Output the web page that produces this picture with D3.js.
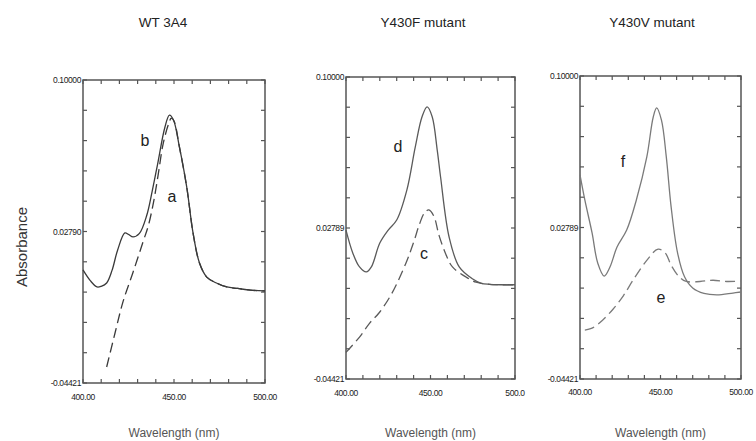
<!DOCTYPE html>
<html><head><meta charset="utf-8">
<script src="https://cdn.jsdelivr.net/npm/d3@7"></script>
<style>body{margin:0;background:#fff}svg{display:block}text{font-family:"Liberation Sans",Arial,sans-serif}</style>
</head><body><div id="chart"></div>
<script>
// ---------- data ----------
const panelTitles = ["WT 3A4", "Y430F mutant", "Y430V mutant"];
const yTickLabels = [["0.10000","0.02790","-0.04421"],["0.10000","0.02789","-0.04421"],["0.10000","0.02789","-0.04421"]];
const yTickValues = [0.1, 0.027895, -0.04421];
const xTickValues = [400, 450, 500];
const xTickLabels = [["400.00","450.00","500.00"],["400.00","450.00","500.0"],["400.00","450.00","500.00"]];
const curveLetters = [["b","a"],["d","c"],["f","e"]];
// [wavelength nm, absorbance]
const wtB = [[400,0.0096],[404,0.0045],[407.7,0.0015],[410,0.0018],[413,0.0034],[416,0.0095],[419,0.019],[423,0.0272],[425,0.0265],[427.5,0.0253],[431,0.027],[435,0.0355],[438,0.047],[441,0.06],[445,0.0775],[447.5,0.0833],[449.7,0.081],[453,0.068],[457,0.049],[460.5,0.027],[464,0.0129],[468,0.0062],[473,0.0035],[479,0.0015],[485,0.0008],[492,0.0],[500,-0.0004]];
const wtA = [[413,-0.0366],[417.6,-0.0204],[422,-0.0055],[427.5,0.0085],[433,0.023],[436,0.031],[439,0.043],[441.5,0.056],[444,0.0695],[447,0.079],[448.5,0.0818],[450,0.0805],[453,0.068],[457,0.049],[460.5,0.027],[464,0.0129],[468,0.0062],[473,0.0035],[479,0.0015],[485,0.0008],[492,0.0],[500,-0.0004]];
const fD = [[400,0.0269],[404,0.016],[408,0.0093],[412,0.0069],[415,0.0093],[420,0.0207],[425,0.0269],[430,0.0317],[436,0.046],[441,0.0666],[445,0.081],[448,0.0857],[451,0.081],[454,0.065],[456,0.052],[461,0.0236],[467,0.0093],[475,0.0035],[480,0.0015],[485,0.001],[492,0.0008],[500,0.0008]];
const fC = [[400,-0.0315],[408,-0.0242],[414,-0.0175],[419.5,-0.0127],[427,-0.0035],[435.5,0.0112],[440,0.021],[443.5,0.0298],[446.5,0.0352],[449,0.0365],[452,0.0335],[455,0.0245],[459,0.0155],[463,0.0093],[471,0.0045],[477,0.002],[485,0.001],[492,0.0008],[500,0.0008]];
const vF = [[400,0.0529],[403,0.041],[407.5,0.0253],[411,0.011],[415,0.0048],[418.6,0.0091],[423,0.0186],[429,0.0267],[435,0.041],[441.5,0.0615],[445.5,0.0805],[447.6,0.0848],[450.6,0.079],[453.6,0.0615],[456.6,0.0377],[460.6,0.0158],[465,0.0043],[470,-0.0009],[477,-0.0035],[485,-0.0042],[495,-0.0033],[500,-0.0028]];
const vE = [[403,-0.0209],[407.5,-0.02],[414,-0.0162],[420.5,-0.011],[427,-0.0045],[433,0.0029],[441.6,0.0124],[448.5,0.0176],[453,0.0157],[456.6,0.01],[461.5,0.0045],[466,0.0022],[474.5,0.0022],[482.6,0.0028],[491,0.0022],[500,0.0024]];
const solidSeries = [wtB, fD, vF];
const dashedSeries = [wtA, fC, vE];

// ---------- layout ----------
const W = 756, H = 441;
const panels = [
  {l:83, r:265, t:80, b:383, col:"#3a3a3a", lbl:[[145,146],[172,202]], xlab:397, ttl:[163,27]},
  {l:346, r:515, t:77, b:379, col:"#5a5a5a", lbl:[[398,152],[424,259]], xlab:393, ttl:[423,27]},
  {l:580, r:741, t:76, b:379, col:"#7a7a7a", lbl:[[623,167],[661,303]], xlab:392, ttl:[652,27]}
];
const svg = d3.select("#chart").append("svg").attr("width",W).attr("height",H);

panels.forEach((p,i)=>{
  const x = d3.scaleLinear().domain([400,500]).range([p.l,p.r]);
  const y = d3.scaleLinear().domain([-0.04421,0.1]).range([p.b,p.t]);
  const g = svg.append("g");
  const xt = d3.range(11).map(k=>400+k*10);
  const yt = d3.range(11).map(k=>-0.04421+k*0.014421);
  const tk = g.append("g").attr("stroke","#555").attr("stroke-width",1.2);
  xt.forEach(v=>{
    tk.append("line").attr("x1",x(v)).attr("x2",x(v)).attr("y1",p.t).attr("y2",p.t+4);
    tk.append("line").attr("x1",x(v)).attr("x2",x(v)).attr("y1",p.b).attr("y2",p.b-4);
  });
  yt.forEach(v=>{
    tk.append("line").attr("y1",y(v)).attr("y2",y(v)).attr("x1",p.l).attr("x2",p.l+4);
    tk.append("line").attr("y1",y(v)).attr("y2",y(v)).attr("x1",p.r).attr("x2",p.r-4);
  });
  g.append("rect").attr("x",p.l).attr("y",p.t).attr("width",p.r-p.l).attr("height",p.b-p.t)
    .attr("fill","none").attr("stroke","#555").attr("stroke-width",1.5);
  yTickValues.forEach((v,k)=>{
    g.append("text").attr("x",p.l-2).attr("y",y(v)+3).attr("text-anchor","end")
      .attr("font-size",8.5).attr("letter-spacing",-0.4).attr("fill","#222").text(yTickLabels[i][k]);
  });
  xTickValues.forEach((v,k)=>{
    g.append("text").attr("x",x(v)).attr("y",p.xlab+3).attr("text-anchor","middle")
      .attr("font-size",8.5).attr("letter-spacing",-0.4).attr("fill","#222").text(xTickLabels[i][k]);
  });
  const line = d3.line().x(d=>x(d[0])).y(d=>y(d[1])).curve(d3.curveCatmullRom.alpha(0.5));
  g.append("path").datum(dashedSeries[i]).attr("d",line).attr("fill","none")
    .attr("stroke",p.col).attr("stroke-width",1.3).attr("stroke-dasharray","10,5");
  g.append("path").datum(solidSeries[i]).attr("d",line).attr("fill","none")
    .attr("stroke",p.col).attr("stroke-width",1.3);
  curveLetters[i].forEach((c,k)=>{
    g.append("text").attr("x",p.lbl[k][0]).attr("y",p.lbl[k][1]).attr("text-anchor","middle")
      .attr("font-size",16).attr("fill","#222").text(c);
  });
  svg.append("text").attr("x",p.ttl[0]).attr("y",p.ttl[1]).attr("text-anchor","middle")
    .attr("font-size",13.5).attr("fill","#222").text(panelTitles[i]);
  svg.append("text").attr("x",(p.l+p.r)/2).attr("y",437).attr("text-anchor","middle")
    .attr("font-size",12).attr("fill","#555").text("Wavelength (nm)");
});
svg.append("text").attr("transform","translate(27,247) rotate(-90)").attr("text-anchor","middle")
  .attr("font-size",15).attr("fill","#333").text("Absorbance");
</script></body></html>
